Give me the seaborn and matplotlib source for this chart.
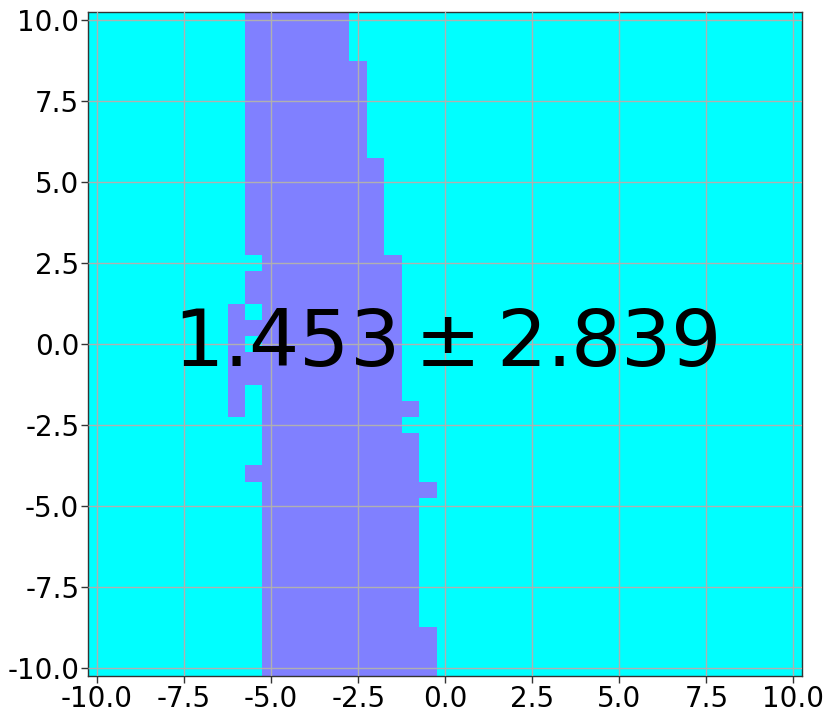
import numpy as np
import matplotlib
matplotlib.use("Agg")
import matplotlib.pyplot as plt
import seaborn as sns
from matplotlib.colors import ListedColormap

sns.set_theme(style="ticks")
plt.rcParams['font.family'] = ['DejaVu Sans']

# grid of cell centres (step 0.5)
grid_x = [-10.0, -9.5, -9.0, -8.5, -8.0, -7.5, -7.0, -6.5, -6.0, -5.5, -5.0,
          -4.5, -4.0, -3.5, -3.0, -2.5, -2.0, -1.5, -1.0, -0.5, 0.0,
          0.5, 1.0, 1.5, 2.0, 2.5, 3.0, 3.5, 4.0, 4.5, 5.0,
          5.5, 6.0, 6.5, 7.0, 7.5, 8.0, 8.5, 9.0, 9.5, 10.0]
grid_y = grid_x[::-1]

# purple class: leftmost / rightmost cell centre in each row (top to bottom)
left_edge = [-5.5, -5.5, -5.5, -5.5, -5.5, -5.5, -5.5, -5.5, -5.5,
             -5.5, -5.5, -5.5, -5.5, -5.5, -5.5,
             -5.0, -5.5, -5.5, -6.0, -6.0, -6.0, -6.0, -6.0, -6.0, -6.0,
             -5.0, -5.0, -5.0, -5.5, -5.0, -5.0,
             -5.0, -5.0, -5.0, -5.0, -5.0, -5.0, -5.0,
             -5.0, -5.0, -5.0]
right_edge = [-3.0, -3.0, -3.0, -2.5, -2.5, -2.5, -2.5, -2.5, -2.5,
              -2.0, -2.0, -2.0, -2.0, -2.0, -2.0,
              -1.5, -1.5, -1.5, -1.5, -1.5, -1.5, -1.5, -1.5, -1.5, -1.0,
              -1.5, -1.0, -1.0, -1.0, -0.5, -1.0,
              -1.0, -1.0, -1.0, -1.0, -1.0, -1.0, -1.0,
              -0.5, -0.5, -0.5]
# cyan cells inside the purple band (y, x)
holes = [(1.0, -5.5), (0.0, -5.5), (-1.5, -5.5), (-2.0, -5.5)]

score_mean = 1.453
score_std = 2.839

xx = np.array(grid_x)
yy = np.array(grid_y)
Z = np.zeros((len(yy), len(xx)))
for i, (lo, hi) in enumerate(zip(left_edge, right_edge)):
    Z[i, (xx >= lo) & (xx <= hi)] = 1
for hy, hx in holes:
    Z[grid_y.index(hy), grid_x.index(hx)] = 0

fig = plt.figure(figsize=(8.31, 7.2), dpi=100)
ax = fig.add_axes([0.1063, 0.0611, 0.8590, 0.9222])
cmap = ListedColormap(['#00FFFF', '#8080FF'])
ax.pcolormesh(xx, yy, Z, cmap=cmap, shading='nearest', vmin=0, vmax=1)

ax.set_xticks([-10, -7.5, -5, -2.5, 0, 2.5, 5, 7.5, 10])
ax.set_yticks([-10, -7.5, -5, -2.5, 0, 2.5, 5, 7.5, 10])
ax.set_xticklabels(['-10.0', '-7.5', '-5.0', '-2.5', '0.0', '2.5', '5.0', '7.5', '10.0'])
ax.set_yticklabels(['-10.0', '-7.5', '-5.0', '-2.5', '0.0', '2.5', '5.0', '7.5', '10.0'])
ax.tick_params(labelsize=20, length=5, width=1, pad=1.5, color='#333333', labelcolor='black')
ax.grid(True, color='#b0b0b0', linewidth=1)
ax.set_axisbelow(False)
for s in ax.spines.values():
    s.set_color('#333333')
    s.set_linewidth(1)

ax.text(0, 0, f'${score_mean:.3f} \\pm {score_std:.3f}$',
        ha='center', va='center', fontsize=57, color='black')

fig.savefig('out.png', dpi=100)
